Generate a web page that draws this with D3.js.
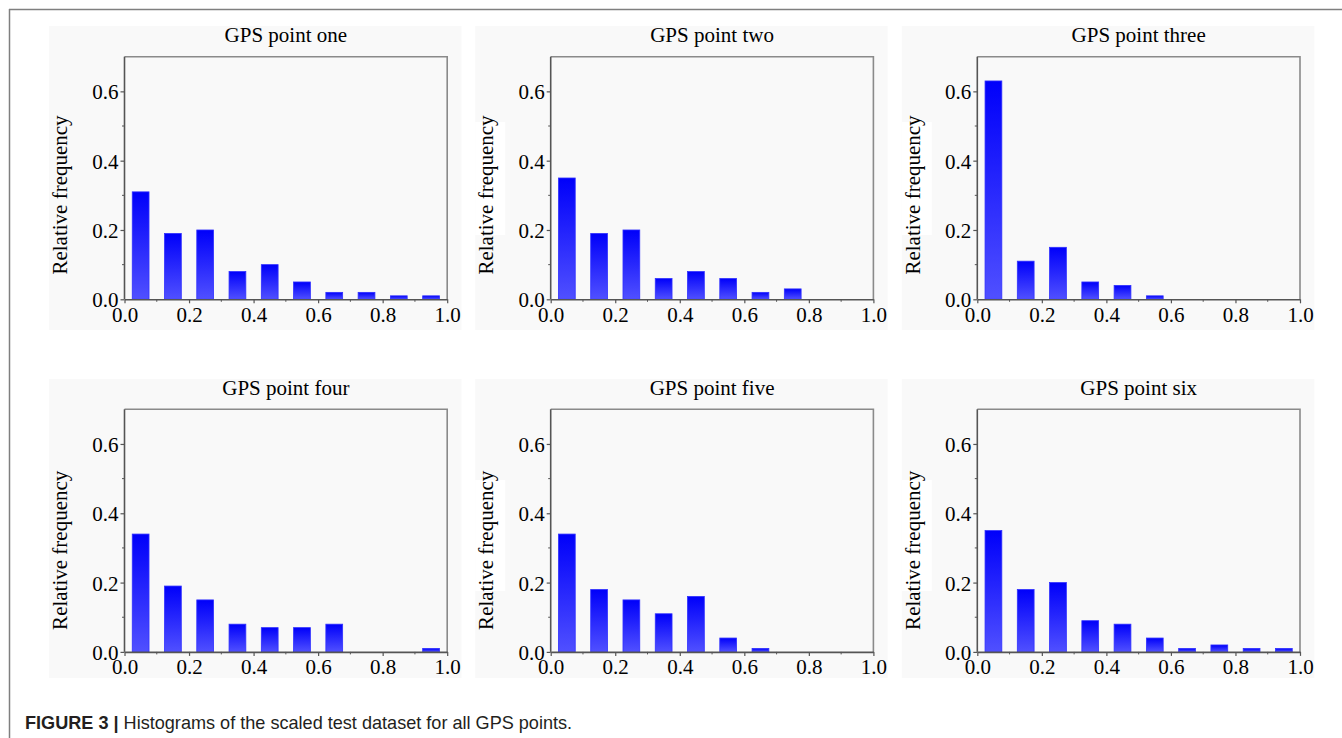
<!DOCTYPE html>
<html>
<head>
<meta charset="utf-8">
<script src="https://cdn.jsdelivr.net/npm/d3@7"></script>
<style>
  html, body { margin: 0; padding: 0; background: #ffffff; }
  svg { display: block; }
</style>
</head>
<body>
<svg id="chart" width="1342" height="738"></svg>
<script>
// ---------- data ----------
const binCenters = [0.05, 0.15, 0.25, 0.35, 0.45, 0.55, 0.65, 0.75, 0.85, 0.95];
const panelTitles = ["GPS point one", "GPS point two", "GPS point three",
                     "GPS point four", "GPS point five", "GPS point six"];
const freqOne   = [0.31, 0.19, 0.20, 0.08, 0.10, 0.05, 0.02, 0.02, 0.01, 0.01];
const freqTwo   = [0.35, 0.19, 0.20, 0.06, 0.08, 0.06, 0.02, 0.03, 0.00, 0.00];
const freqThree = [0.63, 0.11, 0.15, 0.05, 0.04, 0.01, 0.00, 0.00, 0.00, 0.00];
const freqFour  = [0.34, 0.19, 0.15, 0.08, 0.07, 0.07, 0.08, 0.00, 0.00, 0.01];
const freqFive  = [0.34, 0.18, 0.15, 0.11, 0.16, 0.04, 0.01, 0.00, 0.00, 0.00];
const freqSix   = [0.35, 0.18, 0.20, 0.09, 0.08, 0.04, 0.01, 0.02, 0.01, 0.01];
const xTicks = [0, 0.2, 0.4, 0.6, 0.8, 1.0];
const yTicks = [0, 0.2, 0.4, 0.6];
const xDomain = [0, 1];
const yDomain = [0, 0.7];
const yLabel = "Relative frequency";
const captionBold = "FIGURE 3 |";
const captionText = " Histograms of the scaled test dataset for all GPS points.";

const allFreq = [freqOne, freqTwo, freqThree, freqFour, freqFive, freqSix];

// ---------- layout ----------
const svg = d3.select("#chart");
const colLeft = [124.5, 550.7, 977.3];
const rowTop = [56.7, 409.3];
const plotW = 322.7, plotH = 242.6;
const serif = "'Liberation Serif', 'Times New Roman', serif";
const fs = 21;
const ink = "#000";

// outer frame lines
svg.append("line").attr("x1", 9).attr("x2", 1342).attr("y1", 9.5).attr("y2", 9.5)
  .attr("stroke", "#7f7f7f").attr("stroke-width", 1.5);
svg.append("line").attr("x1", 9.5).attr("x2", 9.5).attr("y1", 9).attr("y2", 738)
  .attr("stroke", "#7f7f7f").attr("stroke-width", 1.5);

// gradient
const defs = svg.append("defs");
const grad = defs.append("linearGradient").attr("id", "barGrad")
  .attr("x1", 0).attr("y1", 0).attr("x2", 0).attr("y2", 1);
grad.append("stop").attr("offset", "0%").attr("stop-color", "#0000fa");
grad.append("stop").attr("offset", "100%").attr("stop-color", "#5050ff");

const bgTop = [26, 379], bgBottom = [330, 678];
const labelBoxTop = [122, 480], labelBoxBottom = [235, 591];

allFreq.forEach((vals, i) => {
  const r = Math.floor(i / 3), c = i % 3;
  const left = colLeft[c], top = rowTop[r];
  const x = d3.scaleLinear().domain(xDomain).range([left, left + plotW]);
  const y = d3.scaleLinear().domain(yDomain).range([top + plotH, top]);

  // panel background
  svg.append("rect").attr("x", left - 75.5).attr("y", bgTop[r])
    .attr("width", 337 + 75.5).attr("height", bgBottom[r] - bgTop[r])
    .attr("fill", "#f9f9f9");
  if (c > 0) {
    svg.append("rect").attr("x", left - 75.5).attr("y", labelBoxTop[r])
      .attr("width", 30).attr("height", labelBoxBottom[r] - labelBoxTop[r])
      .attr("fill", "#ffffff");
  }

  const g = svg.append("g");

  // bars
  const bw = x(0.052) - x(0);
  g.selectAll("rect.bar").data(binCenters.map((b, k) => ({b, v: vals[k]})).filter(d => d.v > 0))
    .enter().append("rect").attr("class", "bar")
    .attr("x", d => x(d.b) - bw / 2)
    .attr("width", bw)
    .attr("y", d => y(d.v))
    .attr("height", d => y(0) - y(d.v))
    .attr("fill", "url(#barGrad)")
    .attr("stroke", "#3030ff").attr("stroke-width", 0.8);

  // frame (top and right)
  g.append("path")
    .attr("d", `M${x(0)},${y(0.7)}H${x(1)}V${y(0)}`)
    .attr("fill", "none").attr("stroke", "#8a8a8a").attr("stroke-width", 1.6);

  // minor ticks
  const minorX = [0.1, 0.3, 0.5, 0.7, 0.9];
  const minorY = [0.1, 0.3, 0.5];
  g.selectAll("line.mx").data(minorX).enter().append("line")
    .attr("x1", d => x(d)).attr("x2", d => x(d))
    .attr("y1", y(0)).attr("y2", y(0) + 2.5)
    .attr("stroke", "#555").attr("stroke-width", 1);
  g.selectAll("line.my").data(minorY).enter().append("line")
    .attr("x1", x(0)).attr("x2", x(0) - 2.5)
    .attr("y1", d => y(d)).attr("y2", d => y(d))
    .attr("stroke", "#555").attr("stroke-width", 1);

  // x axis
  const xa = g.append("g").attr("transform", `translate(0,${y(0)})`)
    .call(d3.axisBottom(x).tickValues(xTicks).tickFormat(d3.format(".1f")).tickSize(4).tickSizeOuter(0));
  xa.select(".domain").attr("stroke", "#555").attr("stroke-width", 1.6);
  xa.selectAll(".tick line").attr("stroke", "#555").attr("stroke-width", 1.2);
  xa.selectAll(".tick text").attr("y", 22.4).attr("dy", "0")
    .attr("font-family", serif).attr("font-size", fs).attr("fill", ink);

  // y axis
  const ya = g.append("g").attr("transform", `translate(${x(0)},0)`)
    .call(d3.axisLeft(y).tickValues(yTicks).tickFormat(d3.format(".1f")).tickSize(4).tickSizeOuter(0));
  ya.select(".domain").attr("stroke", "#555").attr("stroke-width", 1.6)
    .attr("d", `M0,${y(0)}V${y(0.7)}`);
  ya.selectAll(".tick line").attr("stroke", "#555").attr("stroke-width", 1.2);
  ya.selectAll(".tick text").attr("x", -6).attr("dy", "0.36em")
    .attr("font-family", serif).attr("font-size", fs).attr("fill", ink);

  // title
  g.append("text").attr("x", x(0.5)).attr("y", top - 14.7)
    .attr("text-anchor", "middle").attr("font-family", serif).attr("font-size", fs)
    .attr("fill", ink).text(panelTitles[i]);

  // y label
  const ly = top + (r === 0 ? 138.3 : 141);
  g.append("text").attr("transform", `translate(${left - 57.5},${ly}) rotate(-90)`)
    .attr("text-anchor", "middle").attr("font-family", serif).attr("font-size", fs)
    .attr("fill", ink).text(yLabel);
});

// caption
const cap = svg.append("text").attr("x", 25).attr("y", 729)
  .attr("font-family", "'Liberation Sans', Arial, sans-serif").attr("font-size", 18.1)
  .attr("fill", "#231f20");
cap.append("tspan").attr("font-weight", "bold").text(captionBold);
cap.append("tspan").text(captionText);
</script>
</body>
</html>
